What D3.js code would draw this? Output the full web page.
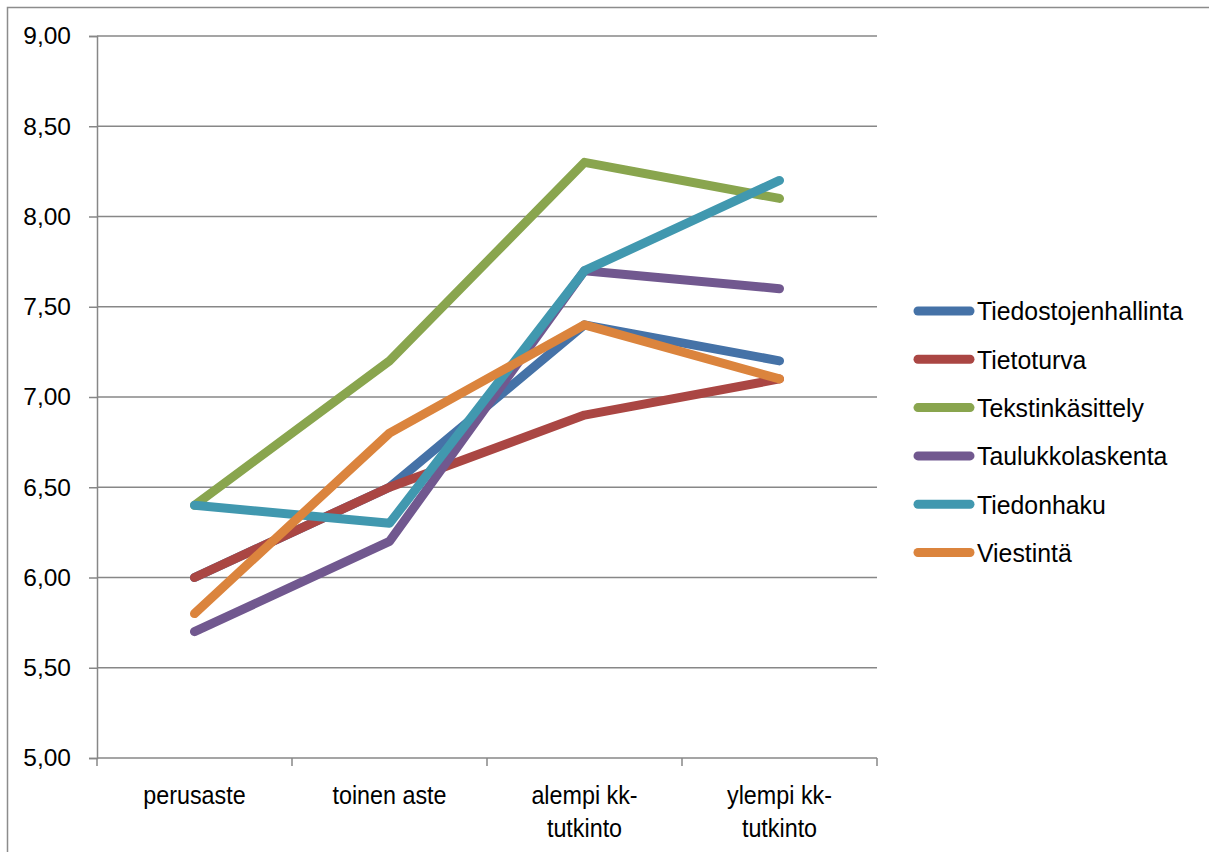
<!DOCTYPE html>
<html>
<head>
<meta charset="utf-8">
<script src="https://cdn.jsdelivr.net/npm/d3@7"></script>
<style>
  html, body { margin: 0; padding: 0; background: #fff; }
  svg { display: block; font-family: "Liberation Sans", Arial, sans-serif; }
</style>
</head>
<body>
<svg id="chart" width="1209" height="852"></svg>
<script>
// Education levels on the x axis
const categories = [["perusaste"], ["toinen aste"], ["alempi kk-", "tutkinto"], ["ylempi kk-", "tutkinto"]];
const categoryKeys = ["perusaste", "toinen aste", "alempi kk-tutkinto", "ylempi kk-tutkinto"];

// Average skill scores per area
const seriesNames = ["Tiedostojenhallinta", "Tietoturva", "Tekstinkäsittely", "Taulukkolaskenta", "Tiedonhaku", "Viestintä"];
const tiedostojenhallinta = [6.0, 6.5, 7.4, 7.2];
const tietoturva = [6.0, 6.5, 6.9, 7.1];
const tekstinkasittely = [6.4, 7.2, 8.3, 8.1];
const taulukkolaskenta = [5.7, 6.2, 7.7, 7.6];
const tiedonhaku = [6.4, 6.3, 7.7, 8.2];
const viestinta = [5.8, 6.8, 7.4, 7.1];
const seriesColors = ["#4572A7", "#AA4643", "#89A54E", "#71588F", "#4198AF", "#DB843D"];

const yTicks = [5.0, 5.5, 6.0, 6.5, 7.0, 7.5, 8.0, 8.5, 9.0];

const seriesValues = [tiedostojenhallinta, tietoturva, tekstinkasittely, taulukkolaskenta, tiedonhaku, viestinta];
const series = seriesNames.map((name, i) => ({ name, values: seriesValues[i], color: seriesColors[i] }));

const svg = d3.select("#chart");
const plot = { left: 97, right: 877, top: 36, bottom: 758 };
const gridColor = "#878787";

// Chart frame (runs past the right and bottom edges of the page)
svg.append("rect")
  .attr("x", 7.5).attr("y", 7.5)
  .attr("width", 1300).attr("height", 900)
  .attr("fill", "none").attr("stroke", "#8c8c8c").attr("stroke-width", 1.5);

const x = d3.scaleBand().domain(categoryKeys).range([plot.left, plot.right]).paddingInner(0).paddingOuter(0);
const y = d3.scaleLinear().domain([5, 9]).range([plot.bottom, plot.top]);

// Horizontal gridlines
svg.append("g").selectAll("line")
  .data(yTicks.filter(t => t > 5))
  .join("line")
  .attr("x1", plot.left).attr("x2", plot.right)
  .attr("y1", d => y(d)).attr("y2", d => y(d))
  .attr("stroke", gridColor).attr("stroke-width", 1.5);

// Y axis
const yAxis = d3.axisLeft(y)
  .tickValues(yTicks)
  .tickSize(8)
  .tickPadding(18)
  .tickFormat(d => d3.format(".2f")(d).replace(".", ","));
const yg = svg.append("g").attr("transform", `translate(${plot.left},0)`).call(yAxis);
yg.select(".domain").attr("stroke", gridColor).attr("stroke-width", 1.5);
yg.selectAll(".tick line").attr("stroke", gridColor).attr("stroke-width", 1.5);
yg.selectAll(".tick text").attr("font-size", 24.5).attr("fill", "#000")
  .attr("font-family", "Liberation Sans, Arial, sans-serif");

// X axis: boundary ticks between categories
const xg = svg.append("g");
xg.append("line")
  .attr("x1", plot.left).attr("x2", plot.right)
  .attr("y1", plot.bottom).attr("y2", plot.bottom)
  .attr("stroke", gridColor).attr("stroke-width", 1.5);
const boundaries = categoryKeys.map(k => x(k)).concat([x(categoryKeys[categoryKeys.length - 1]) + x.bandwidth()]);
xg.selectAll("line.tick")
  .data(boundaries)
  .join("line")
  .attr("class", "tick")
  .attr("x1", d => d).attr("x2", d => d)
  .attr("y1", plot.bottom).attr("y2", plot.bottom + 8)
  .attr("stroke", gridColor).attr("stroke-width", 1.5);

// Category labels use a slightly condensed face
const labelScaleX = 0.88;
const xLabels = xg.selectAll("text.cat")
  .data(categories)
  .join("text")
  .attr("class", "cat")
  .attr("text-anchor", "middle")
  .attr("font-size", 26.5)
  .attr("fill", "#000")
  .attr("transform", (d, i) => `translate(${x(categoryKeys[i]) + x.bandwidth() / 2},804) scale(${labelScaleX},1)`);
xLabels.selectAll("tspan")
  .data(d => d)
  .join("tspan")
  .attr("x", 0)
  .attr("dy", (d, i) => i === 0 ? 0 : 33)
  .text(d => d);

// Series lines
const line = d3.line()
  .x((d, i) => x(categoryKeys[i]) + x.bandwidth() / 2)
  .y(d => y(d));

svg.append("g").selectAll("path")
  .data(series)
  .join("path")
  .attr("d", d => line(d.values))
  .attr("fill", "none")
  .attr("stroke", d => d.color)
  .attr("stroke-width", 9)
  .attr("stroke-linecap", "round")
  .attr("stroke-linejoin", "round");

// Legend
const legendScaleX = 0.955;
const legend = svg.append("g").attr("transform", "translate(918,311)");
const items = legend.selectAll("g")
  .data(series)
  .join("g")
  .attr("transform", (d, i) => `translate(0,${i * 48.3})`);
items.append("line")
  .attr("x1", 0).attr("x2", 52)
  .attr("y1", 0).attr("y2", 0)
  .attr("stroke", d => d.color)
  .attr("stroke-width", 9)
  .attr("stroke-linecap", "round");
items.append("text")
  .attr("transform", `translate(59,0) scale(${legendScaleX},1)`)
  .attr("dy", "0.36em")
  .attr("font-size", 26)
  .attr("fill", "#000")
  .text(d => d.name);
</script>
</body>
</html>
